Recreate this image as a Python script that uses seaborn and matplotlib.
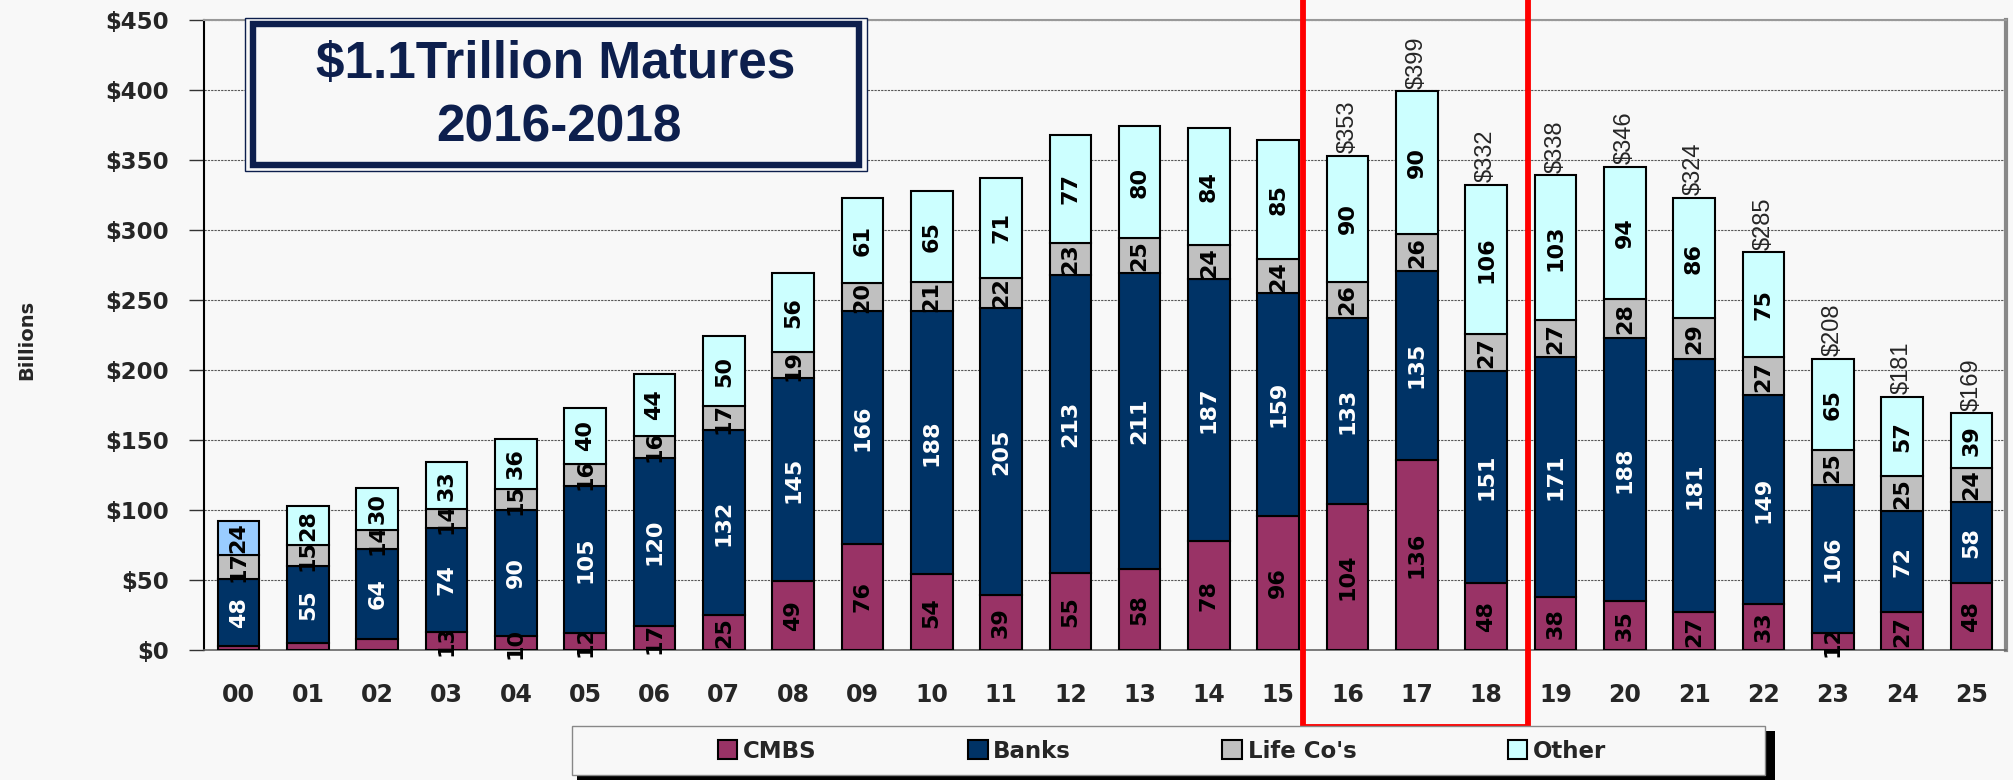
import numpy as np
import pandas as pd
import seaborn as sns
import matplotlib
matplotlib.use("Agg")
import matplotlib.pyplot as plt
from matplotlib.patches import Rectangle, Patch
from matplotlib.transforms import blended_transform_factory

# data ($ billions)
years = ["00", "01", "02", "03", "04", "05", "06", "07", "08", "09", "10", "11", "12",
         "13", "14", "15", "16", "17", "18", "19", "20", "21", "22", "23", "24", "25"]
cmbs = [3, 5, 8, 13, 10, 12, 17, 25, 49, 76, 54, 39, 55, 58, 78, 96, 104, 136, 48, 38, 35, 27, 33, 12, 27, 48]
banks = [48, 55, 64, 74, 90, 105, 120, 132, 145, 166, 188, 205, 213, 211, 187, 159, 133, 135, 151, 171, 188, 181, 149, 106, 72, 58]
life = [17, 15, 14, 14, 15, 16, 16, 17, 19, 20, 21, 22, 23, 25, 24, 24, 26, 26, 27, 27, 28, 29, 27, 25, 25, 24]
other = [24, 28, 30, 33, 36, 40, 44, 50, 56, 61, 65, 71, 77, 80, 84, 85, 90, 102, 106, 103, 94, 86, 75, 65, 57, 39]
other_text = [24, 28, 30, 33, 36, 40, 44, 50, 56, 61, 65, 71, 77, 80, 84, 85, 90, 90, 106, 103, 94, 86, 75, 65, 57, 39]
total_years = ["16", "17", "18", "19", "20", "21", "22", "23", "24", "25"]
totals = [353, 399, 332, 338, 346, 324, 285, 208, 181, 169]
yticks = [0, 50, 100, 150, 200, 250, 300, 350, 400, 450]

series = ["CMBS", "Banks", "Life Co's", "Other"]
colors = ["#993366", "#003366", "#C0C0C0", "#CCFFFF"]
text_colors = ["black", "white", "black", "black"]

df = pd.DataFrame({"year": years, "CMBS": cmbs, "Banks": banks, "Life Co's": life, "Other": other})
labels = {"CMBS": cmbs, "Banks": banks, "Life Co's": life, "Other": other_text}

sns.set_style("white")
plt.rcParams["font.family"] = ["DejaVu Sans"]
bg = "#F8F8F8"

W, H = 2013, 780
fig = plt.figure(figsize=(W / 100, H / 100), dpi=100, facecolor=bg)
ax = fig.add_axes([204 / W, 1 - 650 / H, (2006 - 204) / W, 630 / H])
ax.set_facecolor(bg)

bottom = np.zeros(len(years))
for name, col, tcol in zip(series, colors, text_colors):
    sns.barplot(data=df, x="year", y=name, bottom=bottom, color=col, saturation=1,
                width=0.6, edgecolor="black", linewidth=1.5, errorbar=None, ax=ax, zorder=3)
    vals = df[name].to_numpy()
    for i, (v, t) in enumerate(zip(vals, labels[name])):
        if t >= 10:
            ax.text(i, bottom[i] + v / 2, str(t), rotation=90, ha="center", va="center",
                    fontsize=16, fontweight="bold", color=tcol, zorder=5)
    bottom = bottom + vals

# first year "Other" is drawn in a lighter blue in the original
ax.patches[-len(years)].set_facecolor("#99CCFF")

for y, t in zip(total_years, totals):
    i = years.index(y)
    ax.text(i, bottom[i] + 2, f"${t}", rotation=90, ha="center", va="bottom",
            fontsize=17, family=["Liberation Sans", "DejaVu Sans"], zorder=5)

ax.set_xlim(-0.5, len(years) - 0.5)
ax.set_ylim(0, 450)
ax.set_yticks(yticks)
ax.set_yticklabels([f"${v}" for v in yticks], fontsize=16.5, fontweight="bold")
ax.set_xticks(range(len(years)))
ax.set_xticklabels(years, fontsize=17, fontweight="bold")
ax.set_xticks(np.arange(-0.5, len(years)), minor=True)
ax.tick_params(axis="x", which="major", length=0, pad=24)
ax.tick_params(axis="x", which="minor", length=9, width=1, color="#555555", direction="out")
ax.tick_params(axis="y", length=11, width=1, color="#333333", direction="out", pad=14, left=True)
ax.set_xlabel("")
ax.set_ylabel("")
ax.yaxis.grid(True, linestyle=(0, (2, 1)), color="#555555", linewidth=0.8, zorder=0)
ax.set_axisbelow(True)
ax.spines["left"].set_color("black")
ax.spines["left"].set_linewidth(1.5)
ax.spines["bottom"].set_color("#666666")
ax.spines["bottom"].set_linewidth(1.2)
ax.spines["top"].set_color("#999999")
ax.spines["top"].set_linewidth(1.5)
ax.spines["right"].set_color("#888888")
ax.spines["right"].set_linewidth(3)

fig.text(27 / W, 1 - 340 / H, "Billions", rotation=90, ha="center", va="center",
         fontsize=14, fontweight="bold")

# title box
navy = "#0D1F4D"
fig.patches.append(Rectangle((245 / W, 1 - 171 / H), (867 - 245) / W, (171 - 18) / H,
                             transform=fig.transFigure, facecolor=bg, edgecolor=navy,
                             linewidth=1.0, zorder=10))
fig.patches.append(Rectangle((253 / W, 1 - 165 / H), (859 - 253) / W, (165 - 24) / H,
                             transform=fig.transFigure, facecolor="none", edgecolor=navy,
                             linewidth=4.6, zorder=11))
title_font = ["Liberation Sans", "DejaVu Sans"]
fig.text(556 / W, 1 - 64 / H, "$1.1Trillion Matures", ha="center", va="center", fontsize=37,
         fontweight="bold", color=navy, family=title_font, zorder=12)
fig.text(559 / W, 1 - 128 / H, "2016-2018", ha="center", va="center", fontsize=37,
         fontweight="bold", color=navy, family=title_font, zorder=12)

# red highlight around 2016-2018 (top edge runs off the image)
tr = blended_transform_factory(ax.transData, fig.transFigure)
ax.add_patch(Rectangle((15.36, 1 - 727 / H), 18.6 - 15.36, 1.0, transform=tr, fill=False,
                       edgecolor="#FF0000", linewidth=4.2, clip_on=False, zorder=20))

# legend frame with shadow
fig.patches.append(Rectangle((577 / W, 1 - 780 / H), (1770 - 572) / W, (775 - 726) / H,
                             transform=fig.transFigure, facecolor="black", edgecolor="none", zorder=1))
fig.patches.append(Rectangle((572 / W, 1 - 775 / H), (1765 - 572) / W, (775 - 726) / H,
                             transform=fig.transFigure, facecolor=bg, edgecolor="#888888",
                             linewidth=1, zorder=2))
handles = [Patch(facecolor=c, edgecolor="black", linewidth=1.5) for c in colors]
leg = fig.legend(handles, series, loc="center", bbox_to_anchor=(1162 / W, 1 - 751 / H),
                 ncol=4, frameon=False, prop={"weight": "bold", "size": 16.5},
                 handlelength=0.85, handleheight=0.85, handletextpad=0.25, columnspacing=6.6)
leg.set_zorder(30)

fig.savefig("out.png", dpi=100, facecolor=bg)
